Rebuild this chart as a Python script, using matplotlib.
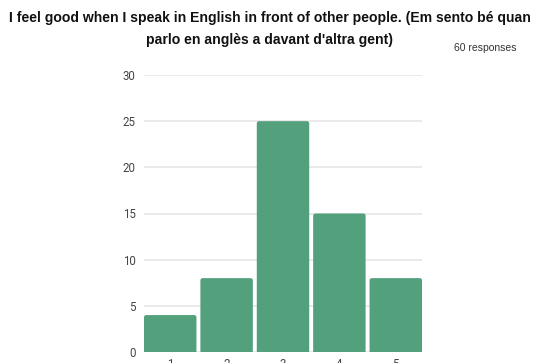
import matplotlib
matplotlib.use("Agg")
import matplotlib.pyplot as plt
from matplotlib.patches import FancyBboxPatch

categories = ["1", "2", "3", "4", "5"]
counts = [4, 8, 25, 15, 8]
y_ticks = [0, 5, 10, 15, 20, 25, 30]

title_lines = ["I feel good when I speak in English in front of other people. (Em sento bé quan",
               "parlo en anglès a davant d'altra gent)"]
subtitle = "60 responses"

BAR_COLOR = "#52a07c"
W, H = 535, 363

fig = plt.figure(figsize=(W / 100, H / 100), dpi=100)
fig.patch.set_facecolor("white")
ax = fig.add_axes([144 / W, (H - 352) / H, (422 - 144) / W, (352 - 75) / H])

x = list(range(len(categories)))
bar_w = 0.93
bars = ax.bar(x, counts, width=bar_w, color=BAR_COLOR)

ax.set_xlim(-bar_w / 2, len(categories) - 1 + bar_w / 2)
ax.set_ylim(0, 30)

# swap each plain bar for a rounded-top one built from the bar's geometry
for b in bars:
    x0, w, h = b.get_x(), b.get_width(), b.get_height()
    b.set_visible(False)
    p = FancyBboxPatch((x0, -2), w, h + 2,
                       boxstyle="round,pad=0,rounding_size=0.04",
                       mutation_aspect=6.0,
                       facecolor=BAR_COLOR, edgecolor="none",
                       clip_on=True, zorder=3)
    ax.add_patch(p)

ax.set_yticks(y_ticks)
ax.set_xticks(x)
ax.set_xticklabels(categories)
ax.grid(axis="y", color="#e6e6e6", linewidth=1.2, zorder=0)
ax.set_axisbelow(True)
for s in ax.spines.values():
    s.set_visible(False)
ax.tick_params(axis="both", length=0, labelsize=8.3, labelcolor="#444444")
ax.tick_params(axis="y", pad=6)
ax.tick_params(axis="x", pad=4)
for lab in ax.get_xticklabels() + ax.get_yticklabels():
    lab.set_fontfamily("Roboto")

for line, yc in zip(title_lines, (18, 40)):
    fig.text(270 / W, 1 - yc / H, line, ha="center", va="center",
             fontsize=10.1, fontweight="bold", family="Liberation Sans",
             color="#111111")
fig.text(516 / W, 1 - 48 / H, subtitle, ha="right", va="center",
         fontsize=7.5, family="Liberation Sans", color="#333333")

fig.savefig("out.png", dpi=100, facecolor="white")
